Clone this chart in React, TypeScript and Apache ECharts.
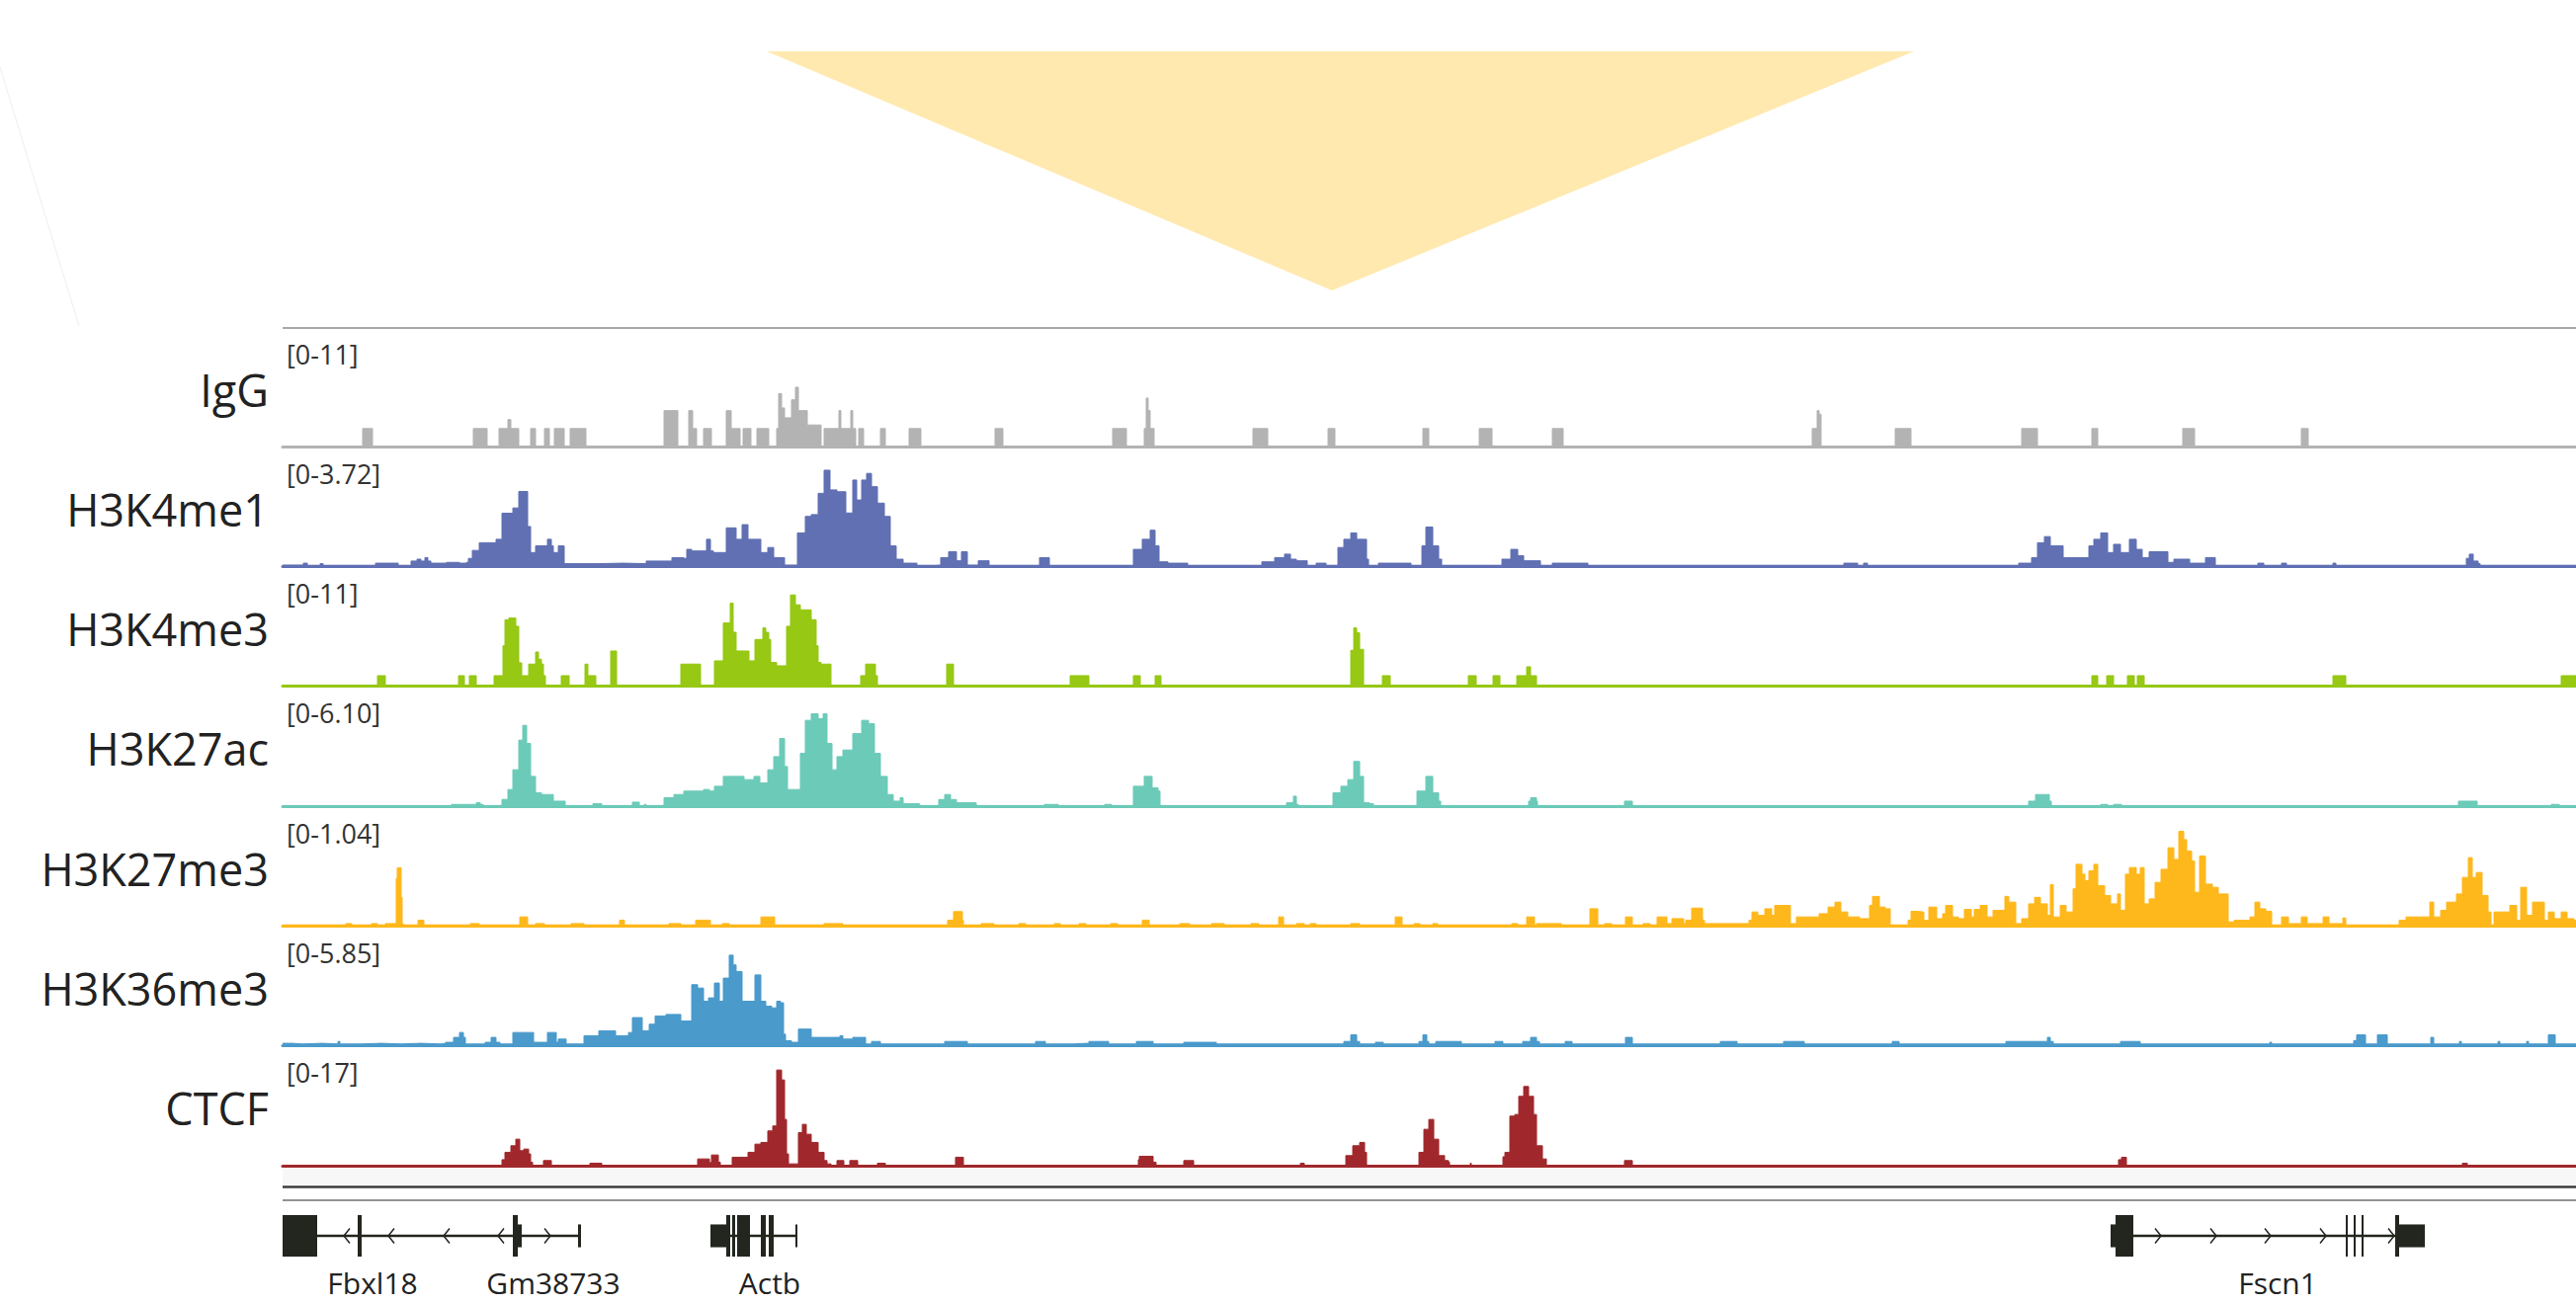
import React, { useEffect, useRef } from "react";
import * as echarts from "echarts";

// ---------- data ----------
// genomic position is expressed in bins across the viewed locus (0 .. POS_MAX)
const POS_MAX = 2321;

const trackNames = ["IgG", "H3K4me1", "H3K4me3", "H3K27ac", "H3K27me3", "H3K36me3", "CTCF"];
const trackRanges = ["[0-11]", "[0-3.72]", "[0-11]", "[0-6.10]", "[0-1.04]", "[0-5.85]", "[0-17]"];
const trackMax = [11, 3.72, 11, 6.1, 1.04, 5.85, 17];
const trackColors = ["#b3b3b3", "#6070b3", "#96c814", "#6ccab8", "#feb81c", "#4a9acb", "#a0282c"];

const iggSignal: number[][] = [
  [0, 0], [81, 0], [81, 2], [91, 2], [91, 0],
  [193, 0], [193, 2], [207, 2], [207, 0],
  [219, 0], [219, 2], [226, 2], [228, 3], [231, 2], [239, 2], [239, 0],
  [251, 0], [251, 2], [256, 2], [256, 0],
  [265, 0], [265, 2], [270, 2], [270, 0],
  [275, 0], [275, 2], [285, 2], [285, 0],
  [291, 0], [291, 2], [307, 2], [307, 0],
  [386, 0], [386, 4], [400, 4], [400, 0],
  [411, 0], [411, 4], [415, 4], [415, 2], [419, 2], [419, 0],
  [426, 0], [426, 2], [434, 2], [434, 0],
  [449, 0], [449, 4], [454, 4], [454, 2], [463, 2], [463, 0],
  [466, 0], [466, 2], [474, 2], [474, 0],
  [480, 0], [480, 2], [492, 2], [492, 0],
  [500, 0], [500, 2], [502, 5.9], [505, 4.3], [508, 3.2], [512, 3.2], [515, 5.2], [519, 6.6], [522, 4], [526, 4], [529, 4], [531, 2.4], [540, 2.4], [545, 2], [545, 0],
  [548, 0], [548, 2], [562, 2], [563, 4], [565, 2], [573, 2], [575, 4], [577, 2], [580, 2], [580, 0],
  [583, 0], [583, 2], [588, 2], [588, 0],
  [605, 0], [605, 2], [610, 2], [610, 0],
  [634, 0], [634, 2], [646, 2], [646, 0],
  [721, 0], [721, 2], [729, 2], [729, 0],
  [840, 0], [840, 2], [854, 2], [854, 0],
  [872, 0], [872, 2], [874, 5.4], [876, 4], [878, 2], [882, 0],
  [982, 0], [982, 2], [997, 2], [997, 0],
  [1058, 0], [1058, 2], [1065, 2], [1065, 0],
  [1154, 0], [1154, 2], [1160, 2], [1160, 0],
  [1211, 0], [1211, 2], [1224, 2], [1224, 0],
  [1285, 0], [1285, 2], [1296, 2], [1296, 0],
  [1548, 0], [1548, 2], [1553, 4], [1555, 3.6], [1557, 2], [1557, 0],
  [1632, 0], [1632, 2], [1648, 2], [1648, 0],
  [1760, 0], [1760, 2], [1776, 2], [1776, 0],
  [1831, 0], [1831, 2], [1837, 2], [1837, 0],
  [1923, 0], [1923, 2], [1935, 2], [1935, 0],
  [2043, 0], [2043, 2], [2050, 2], [2050, 0],
  [2321, 0],
];

const h3k4me1Signal: number[][] = [
  [0, 0.05], [20, 0.05], [21, 0.12], [24, 0.12], [25, 0.04], [37, 0.04], [38, 0.1], [40, 0.1], [41, 0.04],
  [93, 0.04], [94, 0.12], [116, 0.12], [117, 0.04], [128, 0.04], [130, 0.2], [136, 0.27], [140, 0.2], [144, 0.33], [147, 0.2], [150, 0.12], [160, 0.12], [166, 0.15], [179, 0.12], [186, 0.15],
  [188, 0.3], [192, 0.6], [199, 0.89], [210, 0.89], [216, 1.02], [222, 2.0], [231, 2.0], [233, 2.2], [239, 2.82], [245, 2.82], [248, 1.5], [251, 0.52], [256, 0.77], [265, 0.77], [268, 1.02], [272, 0.77], [274, 0.52], [279, 0.77], [283, 0.77], [285, 0.1],
  [291, 0.1], [305, 0.1], [317, 0.12], [345, 0.1], [368, 0.2], [380, 0.2], [394, 0.33], [403, 0.33],
  [406, 0.3], [409, 0.64], [414, 0.58], [426, 0.58], [429, 1.02], [433, 0.58], [436, 0.52], [443, 0.52], [449, 1.45], [455, 1.45], [459, 1.02], [465, 1.57], [467, 1.57], [471, 1.02], [478, 1.02], [484, 0.52], [491, 0.71], [494, 0.71], [497, 0.33], [506, 0.33], [508, 0.05],
  [520, 0.05], [521, 1.26], [529, 1.88], [535, 1.95], [542, 2.75], [548, 3.62], [554, 2.88], [561, 2.81], [566, 2.81], [570, 2.01], [577, 3.25], [581, 2.5], [586, 3.25], [591, 3.5], [596, 3.0], [602, 2.38], [609, 1.88], [615, 0.77], [621, 0.27], [628, 0.12], [641, 0.12], [642, 0.04],
  [660, 0.05], [666, 0.33], [674, 0.55], [682, 0.21], [687, 0.55], [692, 0.55], [693, 0.05],
  [704, 0.21], [714, 0.21], [715, 0.04],
  [762, 0.04], [766, 0.33], [774, 0.33], [776, 0.04],
  [857, 0.04], [861, 0.64], [870, 1.02], [878, 1.36], [883, 0.77], [887, 0.17], [896, 0.12], [915, 0.12], [916, 0.04],
  [985, 0.04], [991, 0.17], [1004, 0.33], [1014, 0.46], [1020, 0.27], [1026, 0.21], [1036, 0.21], [1037, 0.04],
  [1046, 0.12], [1055, 0.12], [1056, 0.04],
  [1062, 0.04], [1068, 0.71], [1074, 1.02], [1081, 1.26], [1087, 1.02], [1094, 1.02], [1097, 0.27], [1099, 0.04],
  [1109, 0.12], [1141, 0.12], [1142, 0.04],
  [1148, 0.04], [1153, 0.77], [1157, 1.48], [1164, 0.77], [1170, 0.27], [1173, 0.04],
  [1224, 0.04], [1234, 0.27], [1243, 0.64], [1250, 0.4], [1256, 0.21], [1272, 0.21], [1273, 0.04],
  [1285, 0.12], [1320, 0.12], [1321, 0.04],
  [1580, 0.12], [1593, 0.12], [1594, 0.04], [1600, 0.12], [1603, 0.12], [1604, 0.04],
  [1757, 0.12], [1767, 0.12], [1770, 0.33], [1776, 0.89], [1783, 1.12], [1789, 0.77], [1795, 0.77], [1802, 0.33], [1821, 0.33], [1828, 0.77], [1833, 1.02], [1840, 1.26], [1847, 0.52], [1853, 0.83], [1860, 0.52], [1869, 1.02], [1876, 0.64], [1882, 0.33], [1889, 0.55], [1895, 0.55], [1901, 0.55], [1908, 0.15], [1914, 0.27], [1927, 0.27], [1930, 0.12], [1940, 0.12], [1946, 0.33], [1952, 0.33], [1956, 0.04],
  [1998, 0.04], [1999, 0.12], [2004, 0.12], [2005, 0.04], [2023, 0.12], [2027, 0.12], [2028, 0.04], [2075, 0.12], [2078, 0.04],
  [2206, 0.04], [2210, 0.3], [2213, 0.46], [2217, 0.2], [2222, 0.1], [2224, 0.04], [2321, 0.04],
];

const h3k4me3Signal: number[][] = [
  [0, 0.05],
  [96, 0.05], [96, 1.17], [104, 1.17], [104, 0.05],
  [178, 0.05], [178, 1.17], [184, 1.17], [184, 0.05], [189, 0.05], [189, 1.17], [196, 1.17], [196, 0.05],
  [214, 0.05], [214, 1.17], [222, 1.17], [223, 4.5], [225, 7.4], [229, 7.59], [233, 7.59], [236, 6.67], [239, 2.6], [242, 1.17], [248, 1.17], [249, 2.46], [251, 2.46], [256, 3.81], [259, 3.0], [262, 2.46], [264, 1.17], [266, 0.05],
  [282, 0.05], [282, 1.17], [290, 1.17], [290, 0.05],
  [305, 0.05], [306, 2.46], [308, 2.46], [309, 1.17], [317, 1.17], [317, 0.05],
  [331, 0.05], [332, 3.92], [337, 3.92], [338, 0.05],
  [403, 0.05], [403, 2.46], [423, 2.46], [423, 0.05],
  [436, 0.05], [437, 2.82], [443, 2.82], [446, 7.04], [453, 9.24], [456, 6.0], [459, 3.92], [467, 3.92], [470, 3.92], [472, 2.82], [475, 2.82], [478, 5.2], [486, 6.49], [489, 6.0], [492, 5.2], [494, 2.64], [500, 2.27], [507, 2.27], [510, 6.67], [514, 10.16], [519, 9.06], [524, 8.5], [529, 8.5], [535, 7.4], [540, 4.5], [542, 2.64], [545, 2.46], [554, 2.46], [555, 0.05],
  [584, 0.05], [585, 1.17], [590, 2.46], [595, 2.46], [600, 1.17], [602, 0.05],
  [671, 0.05], [672, 2.46], [678, 2.46], [679, 0.05],
  [797, 0.05], [797, 1.17], [816, 1.17], [816, 0.05],
  [860, 0.05], [861, 1.17], [868, 1.17], [868, 0.05], [882, 0.05], [883, 1.17], [889, 1.17], [889, 0.05],
  [1080, 0.05], [1081, 4.0], [1084, 6.49], [1087, 5.94], [1090, 4.1], [1092, 4.1], [1094, 0.05],
  [1112, 0.05], [1113, 1.17], [1121, 1.17], [1121, 0.05],
  [1199, 0.05], [1200, 1.17], [1208, 1.17], [1208, 0.05], [1224, 0.05], [1225, 1.17], [1232, 1.17], [1232, 0.05],
  [1248, 0.05], [1249, 1.17], [1257, 1.17], [1259, 2.16], [1263, 1.17], [1269, 1.17], [1269, 0.05],
  [1831, 0.05], [1831, 1.17], [1837, 1.17], [1837, 0.05], [1846, 0.05], [1846, 1.17], [1853, 1.17], [1853, 0.05],
  [1867, 0.05], [1867, 1.17], [1874, 1.17], [1874, 0.05], [1877, 0.05], [1877, 1.17], [1884, 1.17], [1884, 0.05],
  [2075, 0.05], [2075, 1.17], [2088, 1.17], [2088, 0.05],
  [2306, 0.05], [2306, 1.17], [2321, 1.17],
];

const h3k27acSignal: number[][] = [
  [0, 0.03], [170, 0.03], [171, 0.1], [185, 0.1], [190, 0.1], [196, 0.2], [200, 0.1], [203, 0.03],
  [219, 0.05], [222, 0.41], [228, 1.02], [233, 2.24], [239, 4.07], [243, 4.98], [247, 3.86], [251, 1.83], [256, 0.81], [262, 0.71], [268, 0.71], [271, 0.71], [274, 0.3], [285, 0.3], [286, 0.03],
  [314, 0.03], [314, 0.14], [322, 0.14], [323, 0.03],
  [354, 0.03], [354, 0.24], [360, 0.24], [361, 0.03], [366, 0.1], [368, 0.03],
  [383, 0.05], [386, 0.51], [393, 0.51], [396, 0.71], [403, 0.71], [406, 0.92], [416, 0.92], [426, 1.02], [432, 0.92], [437, 1.22], [446, 1.83], [460, 1.83], [467, 1.63], [477, 1.83], [483, 1.42], [491, 2.24], [497, 3.05], [503, 4.17], [508, 2.44], [511, 1.02], [516, 1.02], [524, 3.25], [529, 5.29], [535, 5.69], [542, 5.39], [547, 5.69], [551, 3.86], [556, 2.24], [561, 3.05], [567, 3.46], [577, 4.47], [586, 5.29], [593, 5.08], [599, 3.25], [605, 1.83], [612, 0.71], [618, 0.3], [625, 0.51], [628, 0.14], [644, 0.1], [645, 0.03],
  [663, 0.03], [664, 0.4], [670, 0.71], [676, 0.4], [682, 0.2], [701, 0.2], [702, 0.03],
  [771, 0.03], [771, 0.1], [784, 0.1], [785, 0.03], [832, 0.03], [832, 0.1], [838, 0.1], [839, 0.03],
  [860, 0.03], [861, 1.22], [872, 1.83], [880, 1.12], [886, 0.92], [888, 0.03],
  [1012, 0.03], [1016, 0.2], [1023, 0.61], [1026, 0.1], [1028, 0.03],
  [1062, 0.03], [1063, 0.81], [1071, 1.22], [1078, 1.63], [1084, 2.75], [1090, 1.83], [1094, 0.2], [1100, 0.14], [1104, 0.03],
  [1146, 0.03], [1148, 0.92], [1157, 1.83], [1164, 0.81], [1170, 0.3], [1172, 0.03],
  [1260, 0.03], [1261, 0.3], [1263, 0.51], [1269, 0.3], [1270, 0.03],
  [1356, 0.03], [1358, 0.3], [1364, 0.3], [1366, 0.03],
  [1766, 0.03], [1767, 0.3], [1774, 0.71], [1781, 0.71], [1788, 0.3], [1790, 0.03],
  [1840, 0.03], [1840, 0.1], [1846, 0.1], [1847, 0.03], [1853, 0.03], [1853, 0.1], [1860, 0.1], [1861, 0.03],
  [2201, 0.03], [2202, 0.3], [2220, 0.3], [2221, 0.03],
  [2296, 0.03], [2296, 0.1], [2303, 0.1], [2304, 0.03], [2321, 0.03],
];

const h3k27me3Signal: number[][] = [
  [0, 0.01],
  [64, 0.01], [64, 0.024], [70, 0.024], [70, 0.01],
  [90, 0.01], [90, 0.024], [96, 0.024], [96, 0.01],
  [104, 0.01], [104, 0.024], [114, 0.024], [115, 0.5], [116, 0.61], [119, 0.61], [120, 0.3], [121, 0.024], [122, 0.01],
  [136, 0.01], [137, 0.06], [142, 0.06], [143, 0.01],
  [190, 0.01], [190, 0.024], [199, 0.024], [199, 0.01],
  [238, 0.01], [240, 0.094], [246, 0.094], [248, 0.01],
  [256, 0.01], [256, 0.024], [265, 0.024], [265, 0.01],
  [292, 0.01], [292, 0.024], [305, 0.024], [305, 0.01],
  [340, 0.01], [341, 0.06], [345, 0.06], [346, 0.01],
  [391, 0.01], [391, 0.024], [403, 0.024], [403, 0.01],
  [417, 0.01], [418, 0.06], [432, 0.06], [433, 0.01],
  [445, 0.01], [445, 0.024], [452, 0.024], [452, 0.01],
  [483, 0.01], [484, 0.094], [497, 0.094], [498, 0.01],
  [548, 0.01], [548, 0.024], [567, 0.024], [567, 0.01],
  [672, 0.01], [673, 0.06], [679, 0.15], [682, 0.15], [688, 0.06], [689, 0.01],
  [707, 0.01], [707, 0.024], [720, 0.024], [720, 0.01],
  [745, 0.01], [745, 0.024], [752, 0.024], [752, 0.01],
  [781, 0.01], [781, 0.024], [787, 0.024], [787, 0.01],
  [806, 0.01], [806, 0.024], [813, 0.024], [813, 0.01],
  [838, 0.01], [838, 0.024], [845, 0.024], [845, 0.01],
  [870, 0.01], [870, 0.06], [877, 0.06], [877, 0.01],
  [908, 0.01], [908, 0.024], [918, 0.024], [918, 0.01],
  [940, 0.01], [940, 0.024], [953, 0.024], [953, 0.01],
  [980, 0.01], [980, 0.024], [988, 0.024], [988, 0.01],
  [1007, 0.01], [1008, 0.094], [1012, 0.094], [1013, 0.01],
  [1026, 0.01], [1026, 0.024], [1034, 0.024], [1034, 0.01],
  [1040, 0.01], [1040, 0.024], [1046, 0.024], [1046, 0.01],
  [1081, 0.01], [1081, 0.024], [1090, 0.024], [1090, 0.01],
  [1125, 0.01], [1126, 0.094], [1132, 0.094], [1133, 0.01],
  [1145, 0.01], [1145, 0.024], [1151, 0.024], [1151, 0.01],
  [1164, 0.01], [1164, 0.024], [1169, 0.024], [1169, 0.01],
  [1244, 0.01], [1244, 0.024], [1250, 0.024], [1250, 0.01],
  [1258, 0.01], [1259, 0.094], [1266, 0.094], [1267, 0.01],
  [1269, 0.01], [1269, 0.024], [1294, 0.024], [1294, 0.01],
  [1322, 0.01], [1323, 0.18], [1330, 0.18], [1331, 0.01],
  [1338, 0.01], [1338, 0.024], [1345, 0.024], [1345, 0.01],
  [1358, 0.01], [1359, 0.094], [1365, 0.094], [1366, 0.01],
  [1377, 0.01], [1377, 0.024], [1384, 0.024], [1384, 0.01],
  [1390, 0.01], [1391, 0.094], [1400, 0.094], [1401, 0.024], [1406, 0.076], [1414, 0.076], [1418, 0.024],
  [1420, 0.06], [1426, 0.187], [1433, 0.187], [1437, 0.06], [1439, 0.024],
  [1468, 0.024], [1484, 0.06], [1487, 0.146], [1493, 0.11], [1500, 0.18], [1507, 0.11], [1510, 0.215], [1523, 0.215], [1526, 0.024],
  [1532, 0.094], [1548, 0.094], [1555, 0.128], [1564, 0.198], [1571, 0.25], [1577, 0.146], [1584, 0.094], [1590, 0.094],
  [1596, 0.076], [1603, 0.076], [1606, 0.215], [1609, 0.31], [1616, 0.198], [1622, 0.18], [1627, 0.01],
  [1640, 0.01], [1645, 0.06], [1648, 0.153], [1654, 0.146], [1661, 0.059], [1666, 0.198], [1674, 0.076],
  [1680, 0.128], [1683, 0.215], [1690, 0.094], [1696, 0.076], [1702, 0.173], [1709, 0.094], [1712, 0.173], [1718, 0.215], [1725, 0.094], [1731, 0.163], [1738, 0.163], [1743, 0.31], [1747, 0.25], [1754, 0.024],
  [1760, 0.076], [1767, 0.232], [1773, 0.3], [1779, 0.232], [1786, 0.11], [1789, 0.433], [1792, 0.094], [1799, 0.215], [1805, 0.146], [1812, 0.39], [1815, 0.648], [1821, 0.544], [1824, 0.475], [1828, 0.579], [1833, 0.648], [1837, 0.423], [1844, 0.32], [1850, 0.232], [1857, 0.336], [1860, 0.163], [1865, 0.544], [1869, 0.614], [1876, 0.544], [1880, 0.614], [1884, 0.232], [1889, 0.284], [1895, 0.458], [1901, 0.596], [1908, 0.822], [1914, 0.7], [1919, 0.995], [1924, 0.908], [1927, 0.787], [1932, 0.683], [1935, 0.354], [1940, 0.735], [1946, 0.44], [1953, 0.406], [1959, 0.336], [1966, 0.336], [1969, 0.042],
  [1975, 0.059], [1985, 0.059], [1991, 0.094], [1996, 0.25], [2001, 0.18], [2007, 0.153], [2013, 0.01], [2023, 0.094], [2030, 0.024], [2043, 0.094], [2049, 0.024], [2065, 0.094], [2071, 0.024], [2085, 0.083], [2088, 0.01],
  [2133, 0.01], [2142, 0.059], [2149, 0.094], [2161, 0.094], [2173, 0.25], [2177, 0.094], [2184, 0.163], [2190, 0.25], [2200, 0.336], [2206, 0.51], [2212, 0.718], [2216, 0.51], [2220, 0.562], [2226, 0.32], [2232, 0.146], [2235, 0.01], [2238, 0.146], [2251, 0.146], [2254, 0.215], [2261, 0.059], [2265, 0.406], [2271, 0.11], [2277, 0.25], [2284, 0.25], [2289, 0.059], [2293, 0.146], [2299, 0.076], [2306, 0.146], [2312, 0.076], [2319, 0.059], [2321, 0.059],
];

const h3k36me3Signal: number[][] = [
  [0, 0.14], [10, 0.1], [20, 0.14], [40, 0.1], [56, 0.25], [58, 0.1], [80, 0.14], [100, 0.1], [120, 0.14], [140, 0.1], [160, 0.14],
  [165, 0.2], [173, 0.49], [179, 0.78], [183, 0.49], [185, 0.1], [200, 0.1], [205, 0.2], [211, 0.49], [216, 0.2], [220, 0.1],
  [232, 0.1], [233, 0.78], [251, 0.78], [254, 0.2], [265, 0.2], [268, 0.78], [274, 0.78], [277, 0.2], [279, 0.39], [285, 0.39], [287, 0.1],
  [304, 0.1], [305, 0.59], [314, 0.59], [320, 0.88], [334, 0.88], [337, 0.59], [345, 0.59], [350, 0.78], [354, 1.66], [360, 1.66], [364, 0.88], [368, 0.88], [371, 1.27], [377, 1.76], [383, 1.76], [388, 1.85], [400, 1.85], [403, 1.46], [411, 1.46], [414, 3.61], [420, 3.41], [426, 2.63], [431, 2.83], [437, 3.71], [442, 2.63], [446, 4.0], [452, 5.36], [456, 4.78], [459, 4.39], [465, 2.63], [471, 2.63], [478, 4.19], [484, 2.63], [489, 2.34], [495, 2.24], [500, 2.63], [504, 2.54], [507, 0.68], [509, 0.29], [515, 0.2], [518, 0.2],
  [522, 0.98], [532, 0.98], [535, 0.49], [548, 0.49], [561, 0.49], [564, 0.59], [567, 0.39], [577, 0.49], [586, 0.49], [590, 0.1], [596, 0.25], [602, 0.25], [605, 0.1],
  [669, 0.1], [670, 0.25], [692, 0.25], [693, 0.1], [762, 0.1], [762, 0.25], [771, 0.25], [772, 0.1], [800, 0.14], [815, 0.14], [816, 0.25], [835, 0.25], [836, 0.1], [864, 0.1], [864, 0.25], [880, 0.25], [881, 0.1], [911, 0.1], [912, 0.2], [944, 0.2], [945, 0.1],
  [1071, 0.1], [1074, 0.25], [1081, 0.64], [1087, 0.25], [1090, 0.1], [1105, 0.1], [1106, 0.2], [1113, 0.2], [1114, 0.1], [1148, 0.1], [1150, 0.25], [1154, 0.64], [1158, 0.25], [1160, 0.1], [1166, 0.1], [1167, 0.25], [1192, 0.25], [1193, 0.1], [1227, 0.1], [1227, 0.25], [1234, 0.25], [1235, 0.1], [1250, 0.1], [1255, 0.25], [1263, 0.49], [1269, 0.25], [1272, 0.1], [1298, 0.1], [1298, 0.25], [1304, 0.25], [1305, 0.1],
  [1358, 0.1], [1359, 0.49], [1365, 0.49], [1366, 0.1],
  [1455, 0.1], [1455, 0.25], [1471, 0.25], [1472, 0.1], [1519, 0.1], [1519, 0.25], [1539, 0.25], [1540, 0.1], [1629, 0.1], [1629, 0.25], [1635, 0.25], [1636, 0.1], [1744, 0.1], [1744, 0.25], [1770, 0.25], [1784, 0.25], [1786, 0.49], [1789, 0.25], [1792, 0.1], [1860, 0.1], [1860, 0.25], [1879, 0.25], [1880, 0.1], [2010, 0.1], [2011, 0.2], [2013, 0.1],
  [2095, 0.1], [2096, 0.3], [2099, 0.64], [2106, 0.64], [2108, 0.1], [2119, 0.1], [2120, 0.64], [2128, 0.64], [2130, 0.1], [2172, 0.1], [2174, 0.49], [2177, 0.1], [2202, 0.1], [2203, 0.25], [2205, 0.1], [2241, 0.1], [2242, 0.25], [2244, 0.1], [2270, 0.1], [2271, 0.25], [2273, 0.1], [2292, 0.1], [2293, 0.64], [2299, 0.64], [2300, 0.1], [2321, 0.1],
];

const ctcfSignal: number[][] = [
  [0, 0.05], [221, 0.05], [222, 1.0], [225, 2.27], [231, 3.4], [236, 4.53], [240, 2.55], [244, 2.83], [249, 2.0], [251, 0.57], [253, 0.05],
  [263, 0.05], [264, 0.85], [271, 0.85], [272, 0.05], [311, 0.05], [311, 0.4], [322, 0.4], [323, 0.05],
  [418, 0.05], [420, 1.13], [427, 1.13], [432, 0.5], [434, 1.81], [438, 1.81], [441, 0.57], [443, 0.05],
  [452, 0.05], [455, 1.42], [465, 1.42], [471, 2.27], [478, 3.68], [484, 3.97], [491, 5.95], [496, 6.8], [500, 16.43], [505, 14.73], [508, 7.93], [510, 2.0], [512, 0.28], [518, 0.28], [522, 5.67], [526, 7.08], [530, 5.38], [535, 3.97], [542, 2.27], [548, 0.85], [551, 0.28], [555, 0.05],
  [561, 0.05], [561, 0.85], [567, 0.85], [568, 0.05], [574, 0.05], [574, 0.85], [581, 0.85], [582, 0.05], [602, 0.05], [602, 0.4], [609, 0.4], [610, 0.05],
  [680, 0.05], [681, 1.42], [688, 1.42], [689, 0.05],
  [864, 0.05], [866, 1.0], [867, 1.59], [877, 1.59], [881, 0.57], [884, 0.05],
  [912, 0.05], [912, 0.85], [921, 0.85], [922, 0.05],
  [1030, 0.05], [1030, 0.4], [1033, 0.4], [1034, 0.05],
  [1074, 0.05], [1076, 1.7], [1083, 3.4], [1090, 3.97], [1095, 2.27], [1097, 0.05],
  [1148, 0.05], [1150, 2.27], [1155, 6.23], [1160, 7.93], [1165, 4.53], [1170, 1.7], [1176, 0.85], [1180, 0.57], [1181, 0.05], [1201, 0.05], [1202, 0.4], [1203, 0.05],
  [1233, 0.05], [1235, 1.5], [1237, 2.27], [1242, 8.5], [1247, 8.78], [1251, 11.9], [1256, 13.6], [1261, 11.9], [1266, 8.78], [1269, 3.4], [1275, 1.13], [1279, 0.05],
  [1357, 0.05], [1358, 0.85], [1365, 0.85], [1366, 0.05],
  [1857, 0.05], [1858, 1.0], [1861, 1.42], [1865, 1.42], [1866, 0.05],
  [2206, 0.05], [2206, 0.4], [2210, 0.4], [2211, 0.05], [2321, 0.05],
];

const trackSignals = [iggSignal, h3k4me1Signal, h3k4me3Signal, h3k27acSignal, h3k27me3Signal, h3k36me3Signal, ctcfSignal];

// gene models: [start, end] introns, [start, end, relative height] exons, [pos, strand] chevrons
const geneNames = ["Fbxl18", "Gm38733", "Actb", "Fscn1"];
const geneLabelPos = [91, 274, 493, 2019];
const geneIntrons: number[][] = [[0, 237], [237, 301], [433, 521], [1850, 2168]];
const geneExons: number[][] = [
  [0, 35, 1], [76, 80, 1], [233, 238, 1], [238, 242, 0.55], [299, 302, 0.55],
  [433, 449, 0.55], [449, 453, 1], [455, 458, 1], [460, 473, 1], [484, 489, 1], [492, 497, 1], [519, 521, 0.55],
  [1850, 1855, 0.55], [1855, 1873, 1], [2088, 2090, 1], [2096, 2098, 1], [2104, 2106, 1], [2138, 2142, 1], [2142, 2168, 0.55],
];
const geneStrandMarks: number[][] = [
  [65, -1], [110, -1], [166, -1], [221, -1], [268, 1],
  [1898, 1], [1954, 1], [2009, 1], [2065, 1], [2134, 1],
];

// ---------- layout ----------
const PLOT_LEFT = 286;
const PLOT_W = 2321;
const BASE0 = 452;
const STEP = 121.3;
const TRACK_H = 100;
const GENE_COLOR = "#22261f";
const FONT = '"Open Sans", "Noto Sans", sans-serif';

export default function App() {
  const ref = useRef<HTMLDivElement>(null);

  useEffect(() => {
    document.body.style.margin = "0";
    if (!ref.current) return;
    const chart = echarts.init(ref.current, undefined, { renderer: "svg" });

    const grids: any[] = trackNames.map((_, i) => ({
      left: PLOT_LEFT, width: PLOT_W, top: BASE0 + STEP * i - TRACK_H, height: TRACK_H,
    }));
    grids.push({ left: PLOT_LEFT, width: PLOT_W, top: 1230, height: 42 });

    const xAxes: any[] = trackNames.map((_, i) => ({
      type: "value", gridIndex: i, min: 0, max: POS_MAX,
      axisLine: { show: true, onZero: false, lineStyle: { color: trackColors[i], width: 3 } },
      axisTick: { show: false }, axisLabel: { show: false }, splitLine: { show: false },
    }));
    xAxes.push({ type: "value", gridIndex: 7, min: 0, max: POS_MAX, show: false });

    const yAxes: any[] = trackNames.map((_, i) => ({
      type: "value", gridIndex: i, min: 0, max: trackMax[i], show: false,
    }));
    yAxes.push({ type: "value", gridIndex: 7, min: 0, max: 1, show: false });

    const series: any[] = trackSignals.map((d, i) => ({
      type: "line", name: trackNames[i], xAxisIndex: i, yAxisIndex: i, data: d,
      step: "end",
      showSymbol: false, symbol: "none", silent: true,
      lineStyle: { width: 1, color: trackColors[i] },
      itemStyle: { color: trackColors[i] },
      areaStyle: { color: trackColors[i], opacity: 1 },
    }));

    series.push({
      type: "custom", xAxisIndex: 7, yAxisIndex: 7, data: geneIntrons, silent: true,
      renderItem: (_p: any, api: any) => {
        const a = api.coord([api.value(0), 0.5]);
        const b = api.coord([api.value(1), 0.5]);
        return { type: "line", shape: { x1: a[0], y1: a[1], x2: b[0], y2: b[1] }, style: { stroke: GENE_COLOR, lineWidth: 2.5 } };
      },
    });
    series.push({
      type: "custom", xAxisIndex: 7, yAxisIndex: 7, data: geneExons, silent: true,
      renderItem: (_p: any, api: any) => {
        const a = api.coord([api.value(0), 0.5]);
        const b = api.coord([api.value(1), 0.5]);
        const full = api.size([0, 1])[1];
        const h = full * api.value(2);
        return { type: "rect", shape: { x: a[0], y: a[1] - h / 2, width: Math.max(b[0] - a[0], 2), height: h }, style: { fill: GENE_COLOR } };
      },
    });
    series.push({
      type: "custom", xAxisIndex: 7, yAxisIndex: 7, data: geneStrandMarks, silent: true,
      renderItem: (_p: any, api: any) => {
        const p = api.coord([api.value(0), 0.5]);
        const d = api.value(1);
        return {
          type: "polyline",
          shape: { points: [[p[0] - 3 * d, p[1] - 7.5], [p[0] + 3 * d, p[1]], [p[0] - 3 * d, p[1] + 7.5]] },
          style: { stroke: GENE_COLOR, lineWidth: 1.5, fill: "none" },
        };
      },
    });
    series.push({
      type: "custom", xAxisIndex: 7, yAxisIndex: 7, data: geneLabelPos.map((p) => [p]), silent: true,
      renderItem: (params: any, api: any) => {
        const p = api.coord([api.value(0), 0]);
        return {
          type: "text", x: p[0], y: p[1] + 26,
          style: { text: geneNames[params.dataIndex], font: `30px ${FONT}`, fill: "#222222", align: "center", verticalAlign: "middle" },
        };
      },
    });

    const elements: any[] = [
      { type: "polygon", silent: true, shape: { points: [[776, 52], [1937, 52], [1348, 294]] }, style: { fill: "#ffe9af" } },
      { type: "line", silent: true, shape: { x1: 0, y1: 68, x2: 80, y2: 330 }, style: { stroke: "#eeeeee", lineWidth: 1 } },
      { type: "line", silent: true, shape: { x1: PLOT_LEFT, y1: 332, x2: PLOT_LEFT + PLOT_W, y2: 332 }, style: { stroke: "#a9a9a9", lineWidth: 2 } },
      { type: "rect", silent: true, shape: { x: PLOT_LEFT, y: 1183, width: PLOT_W, height: 16 }, style: { fill: "#f7f7f7" } },
      { type: "line", silent: true, shape: { x1: PLOT_LEFT, y1: 1201.5, x2: PLOT_LEFT + PLOT_W, y2: 1201.5 }, style: { stroke: "#3c3c3c", lineWidth: 2.5 } },
      { type: "line", silent: true, shape: { x1: PLOT_LEFT, y1: 1215, x2: PLOT_LEFT + PLOT_W, y2: 1215 }, style: { stroke: "#6e6e6e", lineWidth: 1.5 } },
    ];
    trackNames.forEach((name, i) => {
      const base = BASE0 + STEP * i;
      elements.push({
        type: "text", silent: true, x: 272, y: base - 58,
        style: { text: name, font: `45px ${FONT}`, fill: "#222222", align: "right", verticalAlign: "middle" },
      });
      elements.push({
        type: "text", silent: true, x: 290, y: base - 94,
        style: { text: trackRanges[i], font: `27px ${FONT}`, fill: "#333333", align: "left", verticalAlign: "middle" },
      });
    });

    chart.setOption({
      animation: false,
      backgroundColor: "#ffffff",
      grid: grids,
      xAxis: xAxes,
      yAxis: yAxes,
      series,
      graphic: { elements },
    });

    return () => chart.dispose();
  }, []);

  return <div ref={ref} style={{ position: "fixed", left: 0, top: 0, width: 2607, height: 1320 }} />;
}
